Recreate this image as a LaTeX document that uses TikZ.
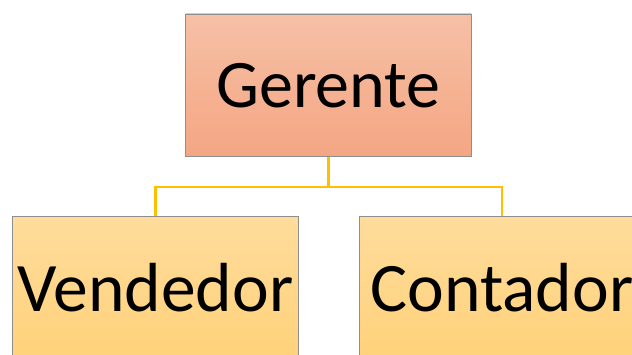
\documentclass[tikz,border=0pt]{standalone}
\usepackage{fontspec}
\setmainfont{Carlito}
\definecolor{boxborder}{HTML}{8E8E8E}
\definecolor{gtop}{HTML}{F6C0A6}
\definecolor{gbot}{HTML}{F4A683}
\definecolor{otop}{HTML}{FFDC9C}
\definecolor{obot}{HTML}{FFD27A}
\definecolor{link}{HTML}{FFC000}
\tikzset{
  orgbox/.style={draw=boxborder, line width=0.9pt, minimum width=285.6pt, minimum height=142.7pt, inner sep=0pt, text=black},
  toprole/.style={orgbox, top color=gtop, bottom color=gbot, font=\fontsize{68}{80}\selectfont},
  subrole/.style={orgbox, top color=otop, bottom color=obot, font=\fontsize{69.5}{80}\selectfont},
  connector/.style={draw=link, line width=2.3pt}
}
\begin{document}
\begin{tikzpicture}[x=1pt,y=-1pt]
\useasboundingbox (0,0) rectangle (632,354);
\clip (0,0) rectangle (632,354);
\fill[white] (0,0) rectangle (632,354);
\node[toprole] (g) at (328.5,85.3) {Gerente};
\node[subrole] (v) at (155.5,288.1) {Vendedor};
\node[subrole] (c) at (502,288.1) {Contador};
\draw[connector] (g.south) -- ++(0,29.8) -| (v.north);
\draw[connector] (g.south) -- ++(0,29.8) -| (c.north);
\end{tikzpicture}
\end{document}
